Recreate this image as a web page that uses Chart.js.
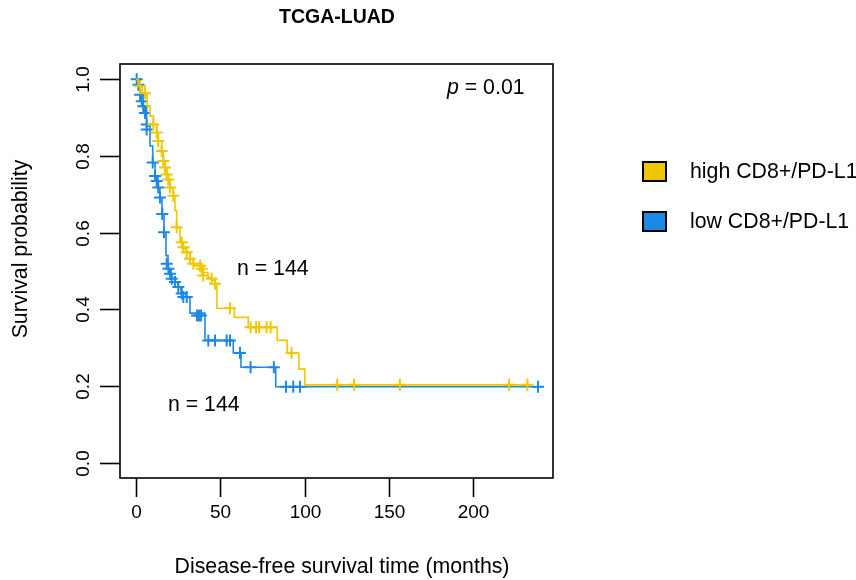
<!DOCTYPE html>
<html>
<head>
<meta charset="utf-8">
<script src="https://cdn.jsdelivr.net/npm/chart.js@4.4.1/dist/chart.umd.min.js"></script>
<style>
  html, body { margin: 0; padding: 0; background: #ffffff; }
  #wrap { width: 856px; height: 580px; }
</style>
</head>
<body>
<div id="wrap"><canvas id="km" width="856" height="580"></canvas></div>
<script>
// ------------------------------------------------------
// DATA
// ------------------------------------------------------
const xTicks = [0, 50, 100, 150, 200];
const yTicks = [0.0, 0.2, 0.4, 0.6, 0.8, 1.0];
const groupLabels = ["high CD8+/PD-L1", "low CD8+/PD-L1"];
const groupColors = ["#EFC700", "#1E88E5"];

// high CD8+/PD-L1 : step curve
const highTime = [0, 1.2, 3.6, 6.5, 8.3, 10.3, 12.3, 13.2, 15.2, 16.2, 17.2, 18.2, 19.2, 20.2, 22.1, 23.1, 24.1, 26.1, 27.3, 29.7, 32.0, 34.0, 38.0, 39.7, 42.7, 45.1, 46.9, 48.0, 58.3, 66.6, 83.8, 89.7, 96.7, 100.2, 232.3];
const highSurv = [1.0, 0.982, 0.964, 0.930, 0.904, 0.883, 0.860, 0.839, 0.813, 0.787, 0.769, 0.751, 0.738, 0.717, 0.696, 0.657, 0.613, 0.579, 0.558, 0.548, 0.532, 0.519, 0.512, 0.496, 0.483, 0.475, 0.468, 0.403, 0.379, 0.353, 0.319, 0.286, 0.244, 0.203, 0.203];
// high : censored marks
const highCensTime = [2.4, 5.3, 10.3, 12.3, 13.2, 15.2, 16.2, 17.2, 18.2, 19.2, 20.2, 22.1, 24.1, 27.1, 28.1, 30.1, 32.0, 34.0, 38.0, 39.0, 39.9, 44.9, 46.9, 55.8, 68.0, 71.2, 73.1, 77.5, 79.9, 92.3, 119.4, 129.4, 156.6, 221.4, 232.3];
const highCensSurv = [0.982, 0.964, 0.882, 0.861, 0.839, 0.813, 0.787, 0.770, 0.752, 0.739, 0.718, 0.696, 0.614, 0.575, 0.562, 0.549, 0.532, 0.519, 0.514, 0.506, 0.488, 0.480, 0.467, 0.403, 0.353, 0.353, 0.353, 0.353, 0.353, 0.286, 0.203, 0.203, 0.203, 0.203, 0.203];

// low CD8+/PD-L1 : step curve
const lowTime = [0, 2.4, 4.2, 6.3, 8.3, 9.9, 11.3, 13.0, 14.2, 15.4, 16.6, 17.8, 19.0, 20.8, 23.1, 24.9, 26.7, 29.7, 32.0, 40.9, 57.7, 62.3, 82.9, 238.4];
const lowSurv = [1.0, 0.961, 0.930, 0.878, 0.826, 0.782, 0.748, 0.717, 0.691, 0.649, 0.600, 0.540, 0.506, 0.481, 0.470, 0.457, 0.442, 0.431, 0.390, 0.319, 0.286, 0.249, 0.198, 0.198];
// low : censored marks
const lowCensTime = [0.4, 1.4, 2.4, 3.4, 4.3, 5.3, 6.3, 6.3, 9.9, 11.3, 12.3, 13.2, 14.2, 15.6, 16.6, 18.2, 19.2, 20.2, 21.2, 23.1, 25.1, 27.1, 28.1, 30.1, 36.2, 37.4, 38.6, 42.9, 46.9, 53.8, 55.8, 61.7, 68.0, 81.8, 89.0, 93.3, 97.3, 238.6];
const lowCensSurv = [1.0, 0.986, 0.960, 0.943, 0.930, 0.912, 0.882, 0.869, 0.783, 0.748, 0.735, 0.718, 0.692, 0.649, 0.601, 0.519, 0.506, 0.493, 0.480, 0.471, 0.458, 0.441, 0.432, 0.432, 0.384, 0.384, 0.384, 0.319, 0.319, 0.319, 0.319, 0.286, 0.249, 0.249, 0.198, 0.198, 0.198, 0.198];

const FONT = '"Liberation Sans", Arial, sans-serif';
const toXY = (xs, ys) => xs.map((x, i) => ({ x, y: ys[i] }));

// ------------------------------------------------------
// R style frame, axes and text
// ------------------------------------------------------
const rFrame = {
    id: "rFrame",
    afterDraw(chart) {
        const { ctx, chartArea: a, scales } = chart;
        const xs = scales.x, ys = scales.y;
        ctx.save();
        ctx.strokeStyle = "#000";
        ctx.fillStyle = "#000";
        ctx.lineWidth = 1.6;

        // box
        ctx.strokeRect(a.left, a.top, a.right - a.left, a.bottom - a.top);

        // x ticks
        ctx.font = `19px ${FONT}`;
        ctx.textAlign = "center";
        ctx.textBaseline = "middle";
        xTicks.forEach(v => {
            const px = Math.round(xs.getPixelForValue(v)) + 0.5;
            ctx.beginPath();
            ctx.moveTo(px, a.bottom);
            ctx.lineTo(px, a.bottom + 19);
            ctx.stroke();
            ctx.fillText(String(v), px, 513);
        });

        // y ticks (labels rotated like R)
        yTicks.forEach(v => {
            const py = Math.round(ys.getPixelForValue(v)) + 0.5;
            ctx.beginPath();
            ctx.moveTo(a.left - 20, py);
            ctx.lineTo(a.left, py);
            ctx.stroke();
            ctx.save();
            ctx.translate(84, py);
            ctx.rotate(-Math.PI / 2);
            ctx.fillText(v.toFixed(1), 0, 0);
            ctx.restore();
        });

        // axis titles
        ctx.font = `21.3px ${FONT}`;
        ctx.fillText("Disease-free survival time (months)", 342, 567);
        ctx.save();
        ctx.translate(21, 249);
        ctx.rotate(-Math.PI / 2);
        ctx.fillText("Survival probability", 0, 0);
        ctx.restore();

        // main title
        ctx.font = `bold 19.5px ${FONT}`;
        ctx.fillText("TCGA-LUAD", 337, 18);

        // p value
        ctx.textAlign = "left";
        ctx.font = `italic 21.3px ${FONT}`;
        ctx.fillText("p", 447, 88);
        const pw = ctx.measureText("p").width;
        ctx.font = `21.3px ${FONT}`;
        ctx.fillText(" = 0.01", 447 + pw, 88);

        // group sizes
        ctx.fillText("n = 144", 237, 269);
        ctx.fillText("n = 144", 168, 405);

        // legend
        groupLabels.forEach((lab, i) => {
            const y = 162 + i * 50;
            ctx.fillStyle = groupColors[i];
            ctx.fillRect(643, y, 23, 19);
            ctx.lineWidth = 2;
            ctx.strokeRect(643, y, 23, 19);
            ctx.fillStyle = "#000";
            ctx.fillText(lab, 690, y + 10);
        });
        ctx.restore();
    }
};

// ------------------------------------------------------
// CHART
// ------------------------------------------------------
const ctx = document.getElementById("km").getContext("2d");
new Chart(ctx, {
    type: "scatter",
    data: {
        datasets: [
            {
                label: "high curve",
                data: toXY(highTime, highSurv),
                showLine: true,
                stepped: true,
                borderColor: groupColors[0],
                borderWidth: 1.6,
                pointRadius: 0
            },
            {
                label: "high censored",
                data: toXY(highCensTime, highCensSurv),
                showLine: false,
                pointStyle: "cross",
                pointRadius: 6,
                pointBorderWidth: 2,
                pointBorderColor: groupColors[0],
                borderColor: groupColors[0]
            },
            {
                label: "low curve",
                data: toXY(lowTime, lowSurv),
                showLine: true,
                stepped: true,
                borderColor: groupColors[1],
                borderWidth: 1.6,
                pointRadius: 0
            },
            {
                label: "low censored",
                data: toXY(lowCensTime, lowCensSurv),
                showLine: false,
                pointStyle: "cross",
                pointRadius: 6,
                pointBorderWidth: 2,
                pointBorderColor: groupColors[1],
                borderColor: groupColors[1]
            }
        ]
    },
    options: {
        responsive: false,
        animation: false,
        layout: { padding: { left: 120, right: 303, top: 64, bottom: 102 } },
        scales: {
            x: { type: "linear", min: -9.52, max: 247.5, display: false },
            y: { type: "linear", min: -0.04, max: 1.04, display: false }
        },
        plugins: {
            legend: { display: false },
            tooltip: { enabled: false }
        }
    },
    plugins: [rFrame]
});
</script>
</body>
</html>
